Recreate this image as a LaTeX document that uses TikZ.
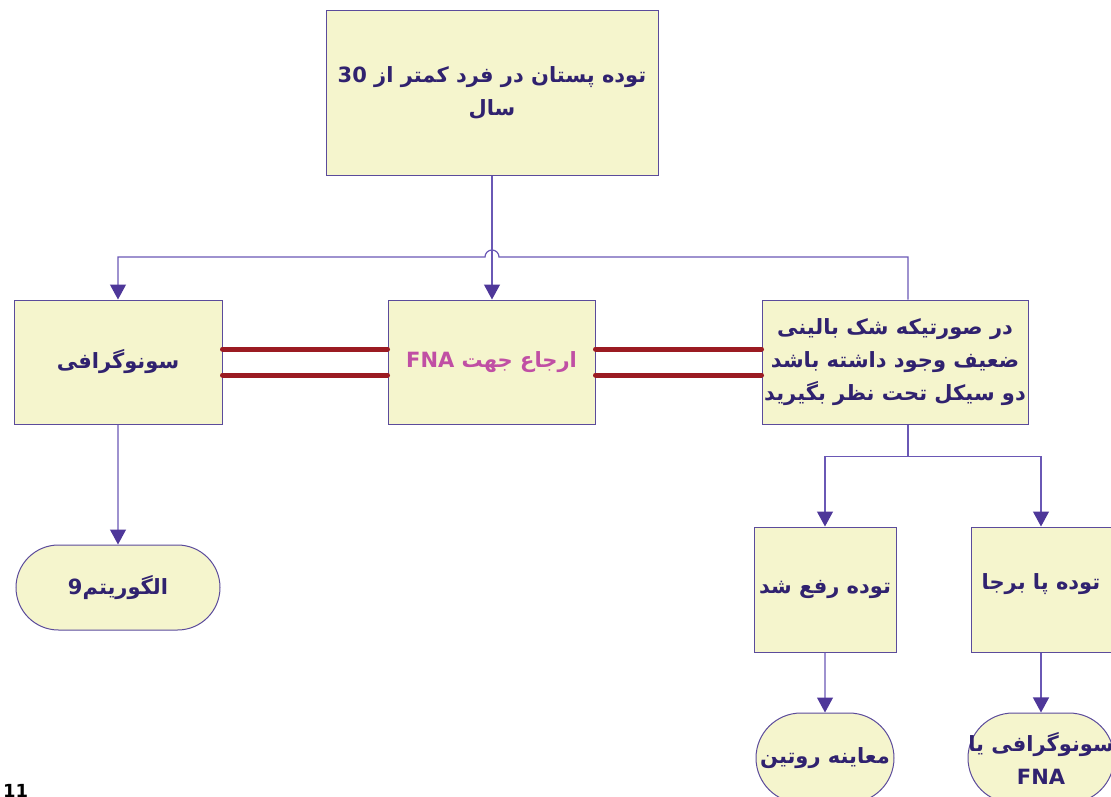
\documentclass[tikz,border=0pt]{standalone}
\usepackage{fontspec}
\setmainfont{DejaVu Sans}
\newfontfamily\farsi[Script=Arabic]{DejaVu Sans}
\TeXXeTstate=1
\usetikzlibrary{arrows.meta}
\usetikzlibrary{shapes.misc}

\definecolor{boxfill}{HTML}{F5F5CD}
\definecolor{boxline}{HTML}{5B4B9B}
\definecolor{flowline}{HTML}{6A58B5}
\definecolor{tipcol}{HTML}{4E3799}
\definecolor{txt}{HTML}{30226F}
\definecolor{pinktxt}{HTML}{C04FA4}
\definecolor{wine}{HTML}{9B1B22}

\newcommand{\fa}[1]{\beginR #1\endR}

\begin{document}
\begin{tikzpicture}[x=1pt,y=1pt,>={Triangle[width=16pt,length=15pt,color=tipcol]},
	flow/.style={draw=flowline, line width=1.2pt},
	box node/.style={rectangle, draw=boxline, fill=boxfill, line width=1pt, inner sep=2pt,
		align=center, text=txt, font=\farsi\bfseries\fontsize{21}{33}\selectfont},
	end node/.style={box node, rounded rectangle},
	twin/.style={draw=wine, line width=5pt, line cap=round}]

	\useasboundingbox (0,0) rectangle (1111,-796);

	\node[box node, minimum width=332pt, minimum height=165pt] (1) at (492,-92.5)
	{\fa{توده  پستان در فرد کمتر از \beginL 30\endL}\\\fa{سال}};

	\node[box node, minimum width=208pt, minimum height=124pt] (2) at (118,-362) {\fa{سونوگرافی}};
	\node[box node, minimum width=207pt, minimum height=124pt, text=pinktxt] (3) at (491.5,-362)
	{\fa{ارجاع جهت \beginL FNA\endL}};
	\node[box node, minimum width=266pt, minimum height=124pt] (4) at (895,-362)
	{\fa{در صورتیکه شک بالینی}\\\fa{ضعیف وجود داشته باشد}\\\fa{دو سیکل تحت نظر بگیرید}};

	\node[end node, minimum width=208pt, minimum height=85pt] (5) at (118,-587.5) {\fa{الگوریتم\beginL 9\endL}};

	\node[box node, minimum width=142pt, minimum height=125pt] (6) at (825,-589.5) {\fa{توده رفع شد}};
	\node[box node, minimum width=140pt, minimum height=125pt] (7) at (1041,-589.5)
	{\raisebox{15pt}{\fa{توده پا برجا}}};

	\node[end node, minimum width=142pt, minimum height=90pt] (8) at (825,-758) {\fa{معاینه روتین}};
	\node[end node, minimum width=150pt, minimum height=90pt] (9) at (1041,-758)
	{\makebox[0pt]{\fa{سونوگرافی یا}}\\\makebox[0pt]{FNA}};

	% page number, cut by the page edge
	\node[anchor=north west, inner sep=0pt, font=\bfseries\fontsize{18}{18}\selectfont] (10) at (3,-784) {11};

	% connectors
	\coordinate (j) at (492,-257);
	\draw[flow,->] (1.south) -- (1.south |- 3.north);
	\draw[flow,->] ([xshift=13pt]4.north) |- ([xshift=7pt]j) arc[start angle=0,end angle=180,radius=7pt] -| (2.north);
	\draw[flow,->] (2) -- (5);
	\draw[flow] ([xshift=13pt]4.south) -- ++(0,-32) coordinate (k);
	\draw[flow,->] (k) -| (6.north);
	\draw[flow,->] (k) -| (7.north);
	\draw[flow,->] (6) -- (8);
	\draw[flow,->] (7) -- (9);

	% double links
	\draw[twin] ([yshift=13pt]2.east) -- ([yshift=13pt]3.west);
	\draw[twin] ([yshift=-13pt]2.east) -- ([yshift=-13pt]3.west);
	\draw[twin] ([yshift=13pt]3.east) -- ([yshift=13pt]4.west);
	\draw[twin] ([yshift=-13pt]3.east) -- ([yshift=-13pt]4.west);
\end{tikzpicture}
\end{document}
